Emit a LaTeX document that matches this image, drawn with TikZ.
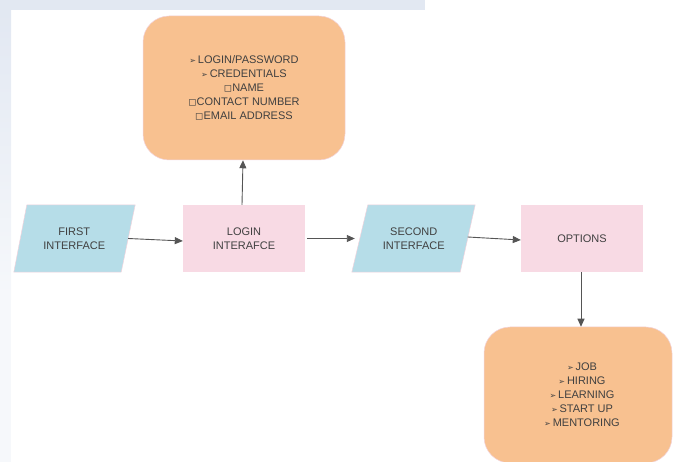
\documentclass[tikz,border=0pt]{standalone}
\usepackage{fontspec}
\setmainfont{Liberation Sans}
\newfontfamily\symfont{DejaVu Sans}
\usetikzlibrary{arrows.meta}
\definecolor{boxorange}{HTML}{F8C190}
\definecolor{boxpink}{HTML}{F8DAE4}
\definecolor{boxblue}{HTML}{B6DDE8}
\definecolor{edgepink}{HTML}{F2D3DC}
\definecolor{txtgray}{HTML}{404040}
\definecolor{arrgray}{HTML}{555555}
\definecolor{wmark}{HTML}{E2E8F2}
\newcommand{\arr}{{\symfont\fontsize{8}{8}\selectfont ➢}\,}
\newcommand{\sq}{{\symfont\fontsize{10}{10}\selectfont ◻}}
\tikzset{
  lbl/.style={font=\fontsize{11}{14}\selectfont, text=txtgray, align=center, inner sep=0pt},
  rectbox/.style={lbl, fill=boxpink, minimum width=122pt, minimum height=67pt},
  roundbox/.style={lbl, fill=boxorange, draw=edgepink, line width=0.5pt, rounded corners=26pt},
  ioshape/.style={lbl, minimum width=107.5pt, minimum height=67pt},
  flow/.style={draw=arrgray, line width=0.9pt, -{Triangle[length=8pt,width=7pt]}}
}
\begin{document}
\begin{tikzpicture}[x=1pt,y=-1pt]
\useasboundingbox (0,0) rectangle (673,462);
% faint watermark border
\fill[wmark] (0,0) rectangle (425,10);
\fill[top color=wmark, bottom color=wmark!30] (0,10) rectangle (11,300);
\fill[wmark!30] (0,300) rectangle (11,462);
% top details box
\node[roundbox, minimum width=202pt, minimum height=144pt] (cred) at (244,88)
  {\arr LOGIN/PASSWORD\\ \arr CREDENTIALS\\ \sq NAME\\ \sq CONTACT NUMBER\\ \sq EMAIL ADDRESS};
% first interface (parallelogram)
\node[ioshape] (first) at (74.25,238.5) {};
\fill[boxblue, draw=edgepink, line width=0.5pt]
  ([xshift=6.5pt]first.north west) -- ([xshift=7pt]first.north east)
  -- ([xshift=-7pt]first.south east) -- ([xshift=-6.5pt]first.south west) -- cycle;
\node[lbl] at (first) {FIRST\\INTERFACE};
% login interface
\node[rectbox] (login) at (244,238.5) {LOGIN\\INTERAFCE};
% second interface (parallelogram)
\node[ioshape] (second) at (413.75,238.5) {};
\fill[boxblue, draw=edgepink, line width=0.5pt]
  ([xshift=8pt]second.north west) -- ([xshift=7.5pt]second.north east)
  -- ([xshift=-7.5pt]second.south east) -- ([xshift=-8pt]second.south west) -- cycle;
\node[lbl] at (second) {SECOND\\INTERFACE};
% options
\node[rectbox] (options) at (582,238.5) {OPTIONS};
% bottom options box
\node[roundbox, minimum width=188pt, minimum height=136pt] (opts) at (578,395)
  {\hspace*{8pt}\arr JOB\\ \hspace*{8pt}\arr HIRING\\ \hspace*{8pt}\arr LEARNING\\ \hspace*{8pt}\arr START UP\\ \hspace*{8pt}\arr MENTORING};
% connectors
\draw[flow] (first.east) -- ([yshift=-2.5pt]login.west);
\draw[flow] ([xshift=-2pt]login.north) -- ([xshift=-1pt]cred.south);
\draw[flow] ([xshift=2pt]login.east) -- ([xshift=-5pt]second.west);
\draw[flow] ([yshift=1.5pt]second.east) -- ([yshift=-1.5pt]options.west);
\draw[flow] ([xshift=-1pt]options.south) -- ([xshift=3pt]opts.north);
\end{tikzpicture}
\end{document}
